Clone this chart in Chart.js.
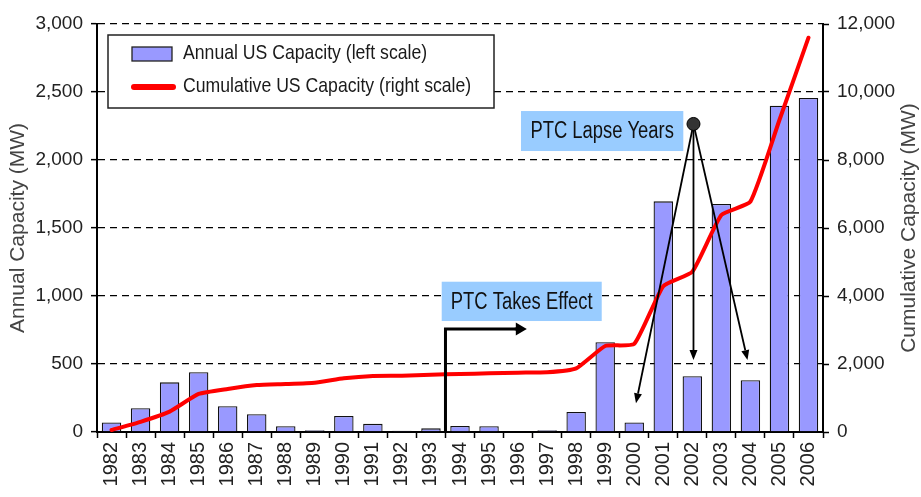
<!DOCTYPE html>
<html>
<head>
<meta charset="utf-8">
<script src="https://cdn.jsdelivr.net/npm/chart.js@4.4.1/dist/chart.umd.min.js"></script>
<style>
html,body{margin:0;padding:0;background:#fff;}
#wrap{width:921px;height:497px;}
</style>
</head>
<body>
<div id="wrap"><canvas id="c" width="921" height="497"></canvas></div>
<script>
// ---- data ----
const years = ['1982','1983','1984','1985','1986','1987','1988','1989','1990','1991','1992','1993','1994','1995','1996','1997','1998','1999','2000','2001','2002','2003','2004','2005','2006'];
const annualMW = [70, 175, 365, 440, 190, 130, 42, 12, 118, 60, 10, 27, 45, 43, 0, 12, 147, 660, 70, 1696, 410, 1676, 380, 2399, 2456];
const cumulativeMW = [60, 300, 600, 1118, 1265, 1380, 1410, 1450, 1580, 1650, 1655, 1685, 1705, 1725, 1745, 1755, 1870, 2530, 2590, 4290, 4715, 6380, 6775, 9176, 11597];
const seriesNames = ['Annual US Capacity (left scale)', 'Cumulative US Capacity (right scale)'];
const axisTitles = ['Annual Capacity (MW)', 'Cumulative Capacity (MW)'];
const leftTicks = [0, 500, 1000, 1500, 2000, 2500, 3000];
const rightTicks = [0, 2000, 4000, 6000, 8000, 10000, 12000];
const noteEffect = 'PTC Takes Effect';
const noteLapse = 'PTC Lapse Years';

// annotation anchors in data units (category index, left-axis MW)
const effectAnchor = { boxFrom: 11.37, boxTo: 16.88, boxTop: 1105, boxBottom: 816, stemX: 11.5, stemTop: 757, headX: 14.3 };
const lapseAnchor = { boxFrom: 14.1, boxTo: 19.69, boxTop: 2360, boxBottom: 2066, hubX: 20.04, hubY: 2265,
  tips: [[18.06, 211], [20.04, 529], [21.9, 529]] };

const FONT = "'Liberation Sans', Arial, sans-serif";
Chart.defaults.font.family = FONT;
Chart.defaults.color = '#222';

function scaledText(ctx, txt, x, y, size, sx, align, color) {
  ctx.save();
  ctx.font = size + 'px ' + FONT;
  ctx.textBaseline = 'middle';
  ctx.textAlign = align || 'left';
  ctx.fillStyle = color || '#1a1a1a';
  ctx.translate(x, y);
  ctx.scale(sx, 1);
  ctx.fillText(txt, 0, 0);
  ctx.restore();
}
function arrow(ctx, x1, y1, x2, y2, w, len, hw) {
  const a = Math.atan2(y2 - y1, x2 - x1);
  const bx = x2 - Math.cos(a) * len, by = y2 - Math.sin(a) * len;
  ctx.save();
  ctx.strokeStyle = '#000'; ctx.fillStyle = '#000'; ctx.lineWidth = w;
  ctx.beginPath(); ctx.moveTo(x1, y1); ctx.lineTo(bx, by); ctx.stroke();
  ctx.beginPath();
  ctx.moveTo(x2, y2);
  ctx.lineTo(bx + Math.sin(a) * hw, by - Math.cos(a) * hw);
  ctx.lineTo(bx - Math.sin(a) * hw, by + Math.cos(a) * hw);
  ctx.closePath(); ctx.fill();
  ctx.restore();
}

const overlay = {
  id: 'overlay',
  afterDatasetsDraw(chart) {
    const ctx = chart.ctx, x = chart.scales.x, y = chart.scales.y, ca = chart.chartArea;
    // --- legend ---
    const lx = ca.left + 11, ly = ca.top + 11;
    ctx.save();
    ctx.fillStyle = '#fff'; ctx.strokeStyle = '#222'; ctx.lineWidth = 1.5;
    ctx.fillRect(lx, ly, 386, 73); ctx.strokeRect(lx, ly, 386, 73);
    const bar = chart.data.datasets[1], line = chart.data.datasets[0];
    ctx.fillStyle = bar.backgroundColor; ctx.strokeStyle = '#222'; ctx.lineWidth = 1.3;
    ctx.fillRect(lx + 24, ly + 12, 40, 14); ctx.strokeRect(lx + 24, ly + 12, 40, 14);
    ctx.strokeStyle = line.borderColor; ctx.lineWidth = 6; ctx.lineCap = 'round';
    ctx.beginPath(); ctx.moveTo(lx + 26, ly + 52); ctx.lineTo(lx + 65, ly + 52); ctx.stroke();
    ctx.restore();
    scaledText(ctx, bar.label, lx + 75, ly + 18.5, 21, 0.84, 'left', '#1a1a1a');
    scaledText(ctx, line.label, lx + 75, ly + 51.5, 21, 0.84, 'left', '#1a1a1a');

    // --- PTC Takes Effect ---
    const e = effectAnchor;
    let bx0 = x.getPixelForValue(e.boxFrom), bx1 = x.getPixelForValue(e.boxTo);
    let by0 = y.getPixelForValue(e.boxTop), by1 = y.getPixelForValue(e.boxBottom);
    ctx.save(); ctx.fillStyle = '#99ccff'; ctx.fillRect(bx0, by0, bx1 - bx0, by1 - by0); ctx.restore();
    scaledText(ctx, noteEffect, (bx0 + bx1) / 2, (by0 + by1) / 2 + 1, 23, 0.8, 'center', '#111');
    const sx = x.getPixelForValue(e.stemX), sTop = y.getPixelForValue(e.stemTop), sBot = y.getPixelForValue(0);
    ctx.save(); ctx.strokeStyle = '#000'; ctx.lineWidth = 3; ctx.lineJoin = 'miter';
    ctx.beginPath(); ctx.moveTo(sx, sBot); ctx.lineTo(sx, sTop); ctx.lineTo(x.getPixelForValue(e.headX) - 10, sTop); ctx.stroke();
    ctx.restore();
    arrow(ctx, x.getPixelForValue(e.headX) - 12, sTop, x.getPixelForValue(e.headX), sTop, 3, 11, 6.5);

    // --- PTC Lapse Years ---
    const l = lapseAnchor;
    bx0 = x.getPixelForValue(l.boxFrom); bx1 = x.getPixelForValue(l.boxTo);
    by0 = y.getPixelForValue(l.boxTop); by1 = y.getPixelForValue(l.boxBottom);
    ctx.save(); ctx.fillStyle = '#99ccff'; ctx.fillRect(bx0, by0, bx1 - bx0, by1 - by0); ctx.restore();
    scaledText(ctx, noteLapse, (bx0 + bx1) / 2, (by0 + by1) / 2 + 1, 23, 0.8, 'center', '#111');
    const hx = x.getPixelForValue(l.hubX), hy = y.getPixelForValue(l.hubY);
    l.tips.forEach(t => arrow(ctx, hx, hy, x.getPixelForValue(t[0]), y.getPixelForValue(t[1]), 1.8, 10, 4));
    ctx.save(); ctx.fillStyle = '#333'; ctx.strokeStyle = '#000'; ctx.lineWidth = 1;
    ctx.beginPath(); ctx.arc(hx, hy, 6.5, 0, Math.PI * 2); ctx.fill(); ctx.stroke(); ctx.restore();

    // --- right axis title (reads bottom-to-top like the left one) ---
    ctx.save();
    ctx.font = '21px ' + FONT;
    ctx.fillStyle = '#444';
    ctx.textAlign = 'center';
    ctx.textBaseline = 'middle';
    ctx.translate(chart.width - 12, (ca.top + ca.bottom) / 2);
    ctx.rotate(-Math.PI / 2);
    ctx.fillText(axisTitles[1], 0, 0);
    ctx.restore();
  }
};

new Chart(document.getElementById('c'), {
  data: {
    labels: years,
    datasets: [
      { type: 'line', label: seriesNames[1], data: cumulativeMW, yAxisID: 'y1', order: 0,
        borderColor: '#ff0000', borderWidth: 4, pointRadius: 0, tension: 0.15, fill: false,
        borderCapStyle: 'round', borderJoinStyle: 'round' },
      { type: 'bar', label: seriesNames[0], data: annualMW, yAxisID: 'y', order: 1,
        backgroundColor: '#9999ff', borderColor: '#111', borderWidth: 1.3,
        barPercentage: 0.67, categoryPercentage: 1.0 }
    ]
  },
  options: {
    responsive: false,
    devicePixelRatio: 1,
    animation: false,
    layout: { padding: { left: 4, right: 0, top: 24, bottom: 5 } },
    plugins: { legend: { display: false }, tooltip: { enabled: false } },
    scales: {
      x: {
        type: 'category', offset: true,
        grid: { offset: true, drawOnChartArea: false, drawTicks: true, tickLength: 6, color: '#000', tickColor: '#000', tickWidth: 1.5 },
        border: { display: true, color: '#000', width: 2 },
        ticks: { minRotation: 90, maxRotation: 90, padding: 4, autoSkip: false, font: { size: 20 }, color: '#222' },
        afterFit(s) { s.height = 60; }
      },
      y: {
        position: 'left', min: leftTicks[0], max: leftTicks[leftTicks.length - 1],
        afterBuildTicks(s) { s.ticks = leftTicks.map(v => ({ value: v })); },
        grid: { color: '#000', lineWidth: 1.3, drawTicks: true, tickLength: 6, tickColor: '#000', tickWidth: 1.5, tickBorderDash: [] },
        border: { display: true, color: '#000', width: 2, dash: [7, 5] },
        ticks: { padding: 8, font: { size: 19 }, color: '#222', callback: v => v.toLocaleString('en-US') },
        title: { display: true, text: axisTitles[0], font: { size: 21 }, color: '#444', padding: { top: 2, bottom: 0 } },
        afterFit(s) { s.width = 93; }
      },
      y1: {
        position: 'right', min: rightTicks[0], max: rightTicks[rightTicks.length - 1],
        afterBuildTicks(s) { s.ticks = rightTicks.map(v => ({ value: v })); },
        grid: { drawOnChartArea: false, drawTicks: true, tickLength: 6, color: '#000', tickColor: '#000', tickWidth: 1.5 },
        border: { display: true, color: '#000', width: 2 },
        ticks: { padding: 8, font: { size: 19 }, color: '#222', callback: v => v.toLocaleString('en-US') },
        title: { display: false },
        afterFit(s) { s.width = 98; }
      }
    }
  },
  plugins: [overlay]
});
</script>
</body>
</html>
